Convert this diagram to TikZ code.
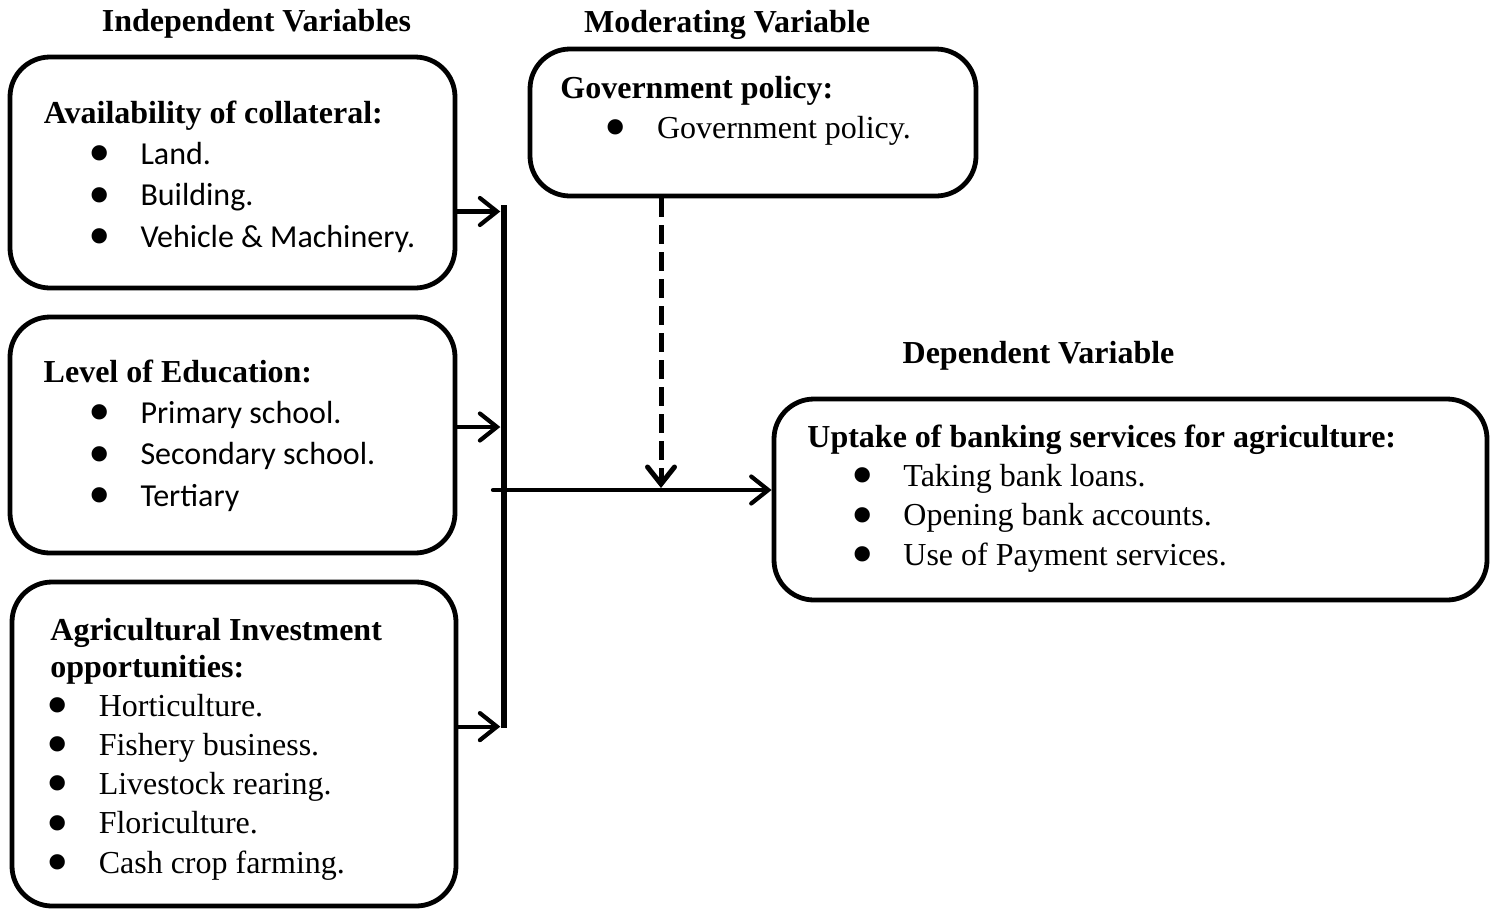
\documentclass[tikz,border=0pt]{standalone}
\usepackage{graphicx}
\usepackage{fontspec}
\setmainfont{Liberation Serif}
\newfontfamily\calibri{Carlito}
\usetikzlibrary{positioning,arrows.meta}

% bullet centred #1 from the left edge, text #2 after it
\newcommand{\bitem}[2]{\hspace*{#1}\makebox[0pt]{\rmfamily\raisebox{-0.32em}{\scalebox{2}{\textbullet}}}\hspace*{#2}}

\begin{document}
\begin{tikzpicture}[x=0.5pt, y=-0.5pt, font=\fontsize{16}{19.6}\selectfont,
                    box/.style={draw, line width=2.4pt, rounded corners=20pt},
                    head/.style={font=\fontsize{16}{19.6}\selectfont\bfseries, anchor=base},
                    body/.style={align=left, anchor=base west, inner sep=0pt},
                    sansbody/.style={body, font=\calibri\fontsize{16}{20.6}\selectfont},
                    link/.style={line width=2.1pt, line cap=round, -{Straight Barb[length=8.5pt,width=13.5pt,line cap=round]}},
                    modlink/.style={line width=2.5pt, dash pattern=on 9.5pt off 4pt, -{Straight Barb[length=8.5pt,width=13.5pt,line cap=round]}}]
    \useasboundingbox (0,0) rectangle (1492,911);
    % headings
    \node[head] (h-ind) at (256.5,31.7) {Independent Variables};
    \node[head] (h-mod) at (727,32)     {Moderating Variable};
    \node[head] (h-dep) at (1038.5,363) {Dependent Variable};
    % boxes
    \node[box, minimum width=222.5pt, minimum height=115.5pt] (col) at (232.5,172.5) {};
    \node[box, minimum width=222.5pt, minimum height=118pt]   (edu) at (232.5,435)   {};
    \node[box, minimum width=222pt,   minimum height=162pt]   (agr) at (234,744)     {};
    \node[box, minimum width=223pt,   minimum height=73.5pt]  (gov) at (753,122.5)   {};
    \node[box, minimum width=356.5pt, minimum height=100.5pt] (dep) at (1130.5,499.5) {};
    \node[fill, inner sep=0pt, minimum width=3.3pt, minimum height=261.5pt] (bar) at (504,466.5) {};
    % box texts (placed at the baseline of their last line)
    \node[sansbody] (col-t) at (43.5,247) {{\rmfamily\bfseries Availability of collateral:}\\
        \bitem{27.9pt}{20.4pt}Land.\\
        \bitem{27.9pt}{20.4pt}Building.\\
        \bitem{27.9pt}{20.4pt}Vehicle \& Machinery.};
    \node[sansbody] (edu-t) at (43.3,506) {{\rmfamily\bfseries Level of Education:}\\
        \bitem{28pt}{20.4pt}Primary school.\\
        \bitem{28pt}{20.4pt}Secondary school.\\
        \bitem{28pt}{20.4pt}Tertiary};
    \node[body] (agr-t) at (50,873) {\textbf{Agricultural Investment}\\[-1.1pt]
        \textbf{opportunities:}\\
        \bitem{3.7pt}{20.5pt}Horticulture.\\
        \bitem{3.7pt}{20.5pt}Fishery business.\\
        \bitem{3.7pt}{20.5pt}Livestock rearing.\\
        \bitem{3.7pt}{20.5pt}Floriculture.\\
        \bitem{3.7pt}{20.5pt}Cash crop farming.};
    \node[body] (gov-t) at (560,138) {\textbf{Government policy:}\\
        \bitem{27.5pt}{20.8pt}Government policy.};
    \node[body] (dep-t) at (807,565) {\textbf{Uptake of banking services for agriculture:}\\
        \bitem{27.7pt}{20.3pt}Taking bank loans.\\
        \bitem{27.7pt}{20.3pt}Opening bank accounts.\\
        \bitem{27.7pt}{20.3pt}Use of Payment services.};
    % arrows
    \draw[link] ([yshift=-19.5pt]col.east) -- ([yshift=-19.5pt]col.east -| bar.west);
    \draw[link] ([yshift=4pt]edu.east) -- ([yshift=4pt]edu.east -| bar.west);
    \draw[link] ([yshift=8.7pt]agr.east) -- ([yshift=8.7pt]agr.east -| bar.west);
    \coordinate (fork) at (493,490);
    \draw[link] (fork) -- (fork -| dep.west);
    \coordinate (meet) at (661,488);
    \draw[modlink] (meet |- gov.south) -- (meet);
\end{tikzpicture}
\end{document}
